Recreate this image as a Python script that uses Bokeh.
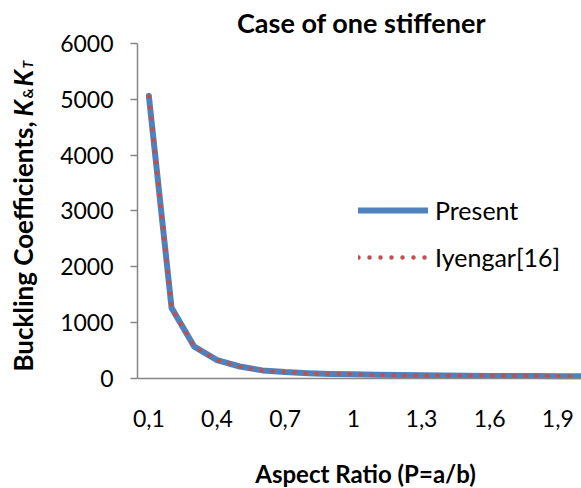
from math import pi
from bokeh.plotting import figure
from bokeh.models import (Range1d, FixedTicker, CustomJSTickFormatter, Label,
                          Legend, LegendItem)
from bokeh.embed import file_html
from bokeh.resources import INLINE

# ---- data ----
aspect_ratio = [0.1, 0.2, 0.3, 0.4, 0.5, 0.6, 0.7, 0.8, 0.9, 1.0,
                1.1, 1.2, 1.3, 1.4, 1.5, 1.6, 1.7, 1.8, 1.9, 2.0]
present = [5060, 1265, 570, 330, 215, 145, 115, 95, 82, 75,
           68, 62, 57, 53, 50, 47, 45, 43, 41, 40]
iyengar = [5050, 1260, 565, 328, 213, 144, 114, 94, 81, 74,
           67, 61, 56, 52, 49, 46, 44, 42, 40, 39]
y_ticks = [0, 1000, 2000, 3000, 4000, 5000, 6000]
x_tick_values = [0.1, 0.4, 0.7, 1.0, 1.3, 1.6, 1.9]
x_tick_labels = ["0,1", "0,4", "0,7", "1", "1,3", "1,6", "1,9"]

FONT = "Lato"
W, H = 581, 488

# The frame fills the whole canvas; the axes are pinned at fixed data
# locations so that titles can be drawn as labels inside the frame.
p = figure(width=W, height=H, output_backend="svg", toolbar_location=None,
           title=None,
           x_range=Range1d(-0.55299, 2.00423), y_range=Range1d(-1970.1, 6770.1),
           min_border=0)
p.outline_line_color = None
p.grid.visible = False
p.background_fill_color = "white"
p.border_fill_color = "white"

p.yaxis.fixed_location = 0.05
p.yaxis.bounds = (0, 6000)
p.yaxis.ticker = FixedTicker(ticks=y_ticks)
p.yaxis.major_tick_out = 7
p.yaxis.major_tick_in = 0
p.yaxis.minor_tick_out = 0
p.yaxis.minor_tick_in = 0
p.yaxis.major_label_standoff = 17

p.xaxis.fixed_location = 0
p.xaxis.bounds = (0.05, 2.1)
p.xaxis.ticker = FixedTicker(ticks=x_tick_values)
p.xaxis.formatter = CustomJSTickFormatter(
    args=dict(vals=x_tick_values, labs=x_tick_labels),
    code="""
    for (let i = 0; i < vals.length; i++) {
        if (Math.abs(vals[i] - tick) < 1e-9) { return labs[i]; }
    }
    return '';
    """)
p.xaxis.major_tick_out = 0
p.xaxis.major_tick_in = 0
p.xaxis.minor_tick_out = 0
p.xaxis.minor_tick_in = 0
p.xaxis.major_label_standoff = 31
for ax in (p.xaxis, p.yaxis):
    ax.axis_line_color = "#868686"
    ax.axis_line_width = 1.5
    ax.major_tick_line_color = "#868686"
    ax.major_tick_line_width = 1.5
    ax.major_label_text_font = FONT
    ax.major_label_text_font_size = "23px"
    ax.major_label_text_color = "#000000"

r1 = p.line(aspect_ratio, present, line_color="#4F81BD", line_width=6,
            line_join="round", line_cap="round")
r2 = p.line(aspect_ratio, iyengar, line_color="#C0504D", line_width=4.5,
            line_dash="0 11", line_cap="round", line_join="round")

legend = Legend(items=[LegendItem(label="Present", renderers=[r1]),
                       LegendItem(label="Iyengar[16]", renderers=[r2])],
                location=(358, 216), orientation="vertical",
                glyph_width=70, glyph_height=30, label_height=30,
                spacing=17, padding=0, margin=0, label_standoff=7,
                border_line_color=None, background_fill_alpha=0,
                label_text_font=FONT, label_text_font_size="25px",
                label_text_color="#000000")
p.add_layout(legend)


def add_text(txt, x, y, size, style="bold", align="center", angle=0.0):
    p.add_layout(Label(x=x, y=y, x_units="screen", y_units="screen",
                       text=txt, angle=angle, text_font=FONT,
                       text_font_style=style, text_font_size=size,
                       text_align=align, text_baseline="alphabetic",
                       text_color="#000000"))


# chart title and x-axis title
add_text("Case of one stiffener", 361, H - 22, "27px")
add_text("Aspect Ratio (P=a/b)", 365, H - 473, "24px")

# rich y-axis title: Buckling Coefficients, K_& K_T
add_text("Buckling Coefficients,", 22, H - 121, "26px", "bold", "right", pi / 2)
add_text("K", 22, H - 116, "26px", "bold italic", "left", pi / 2)
add_text("&", 27, H - 98, "14px", "bold", "left", pi / 2)
add_text("K", 22, H - 86, "26px", "bold italic", "left", pi / 2)
add_text("T", 27, H - 68, "14px", "bold italic", "left", pi / 2)

open("out.html", "w").write(file_html(p, INLINE))
